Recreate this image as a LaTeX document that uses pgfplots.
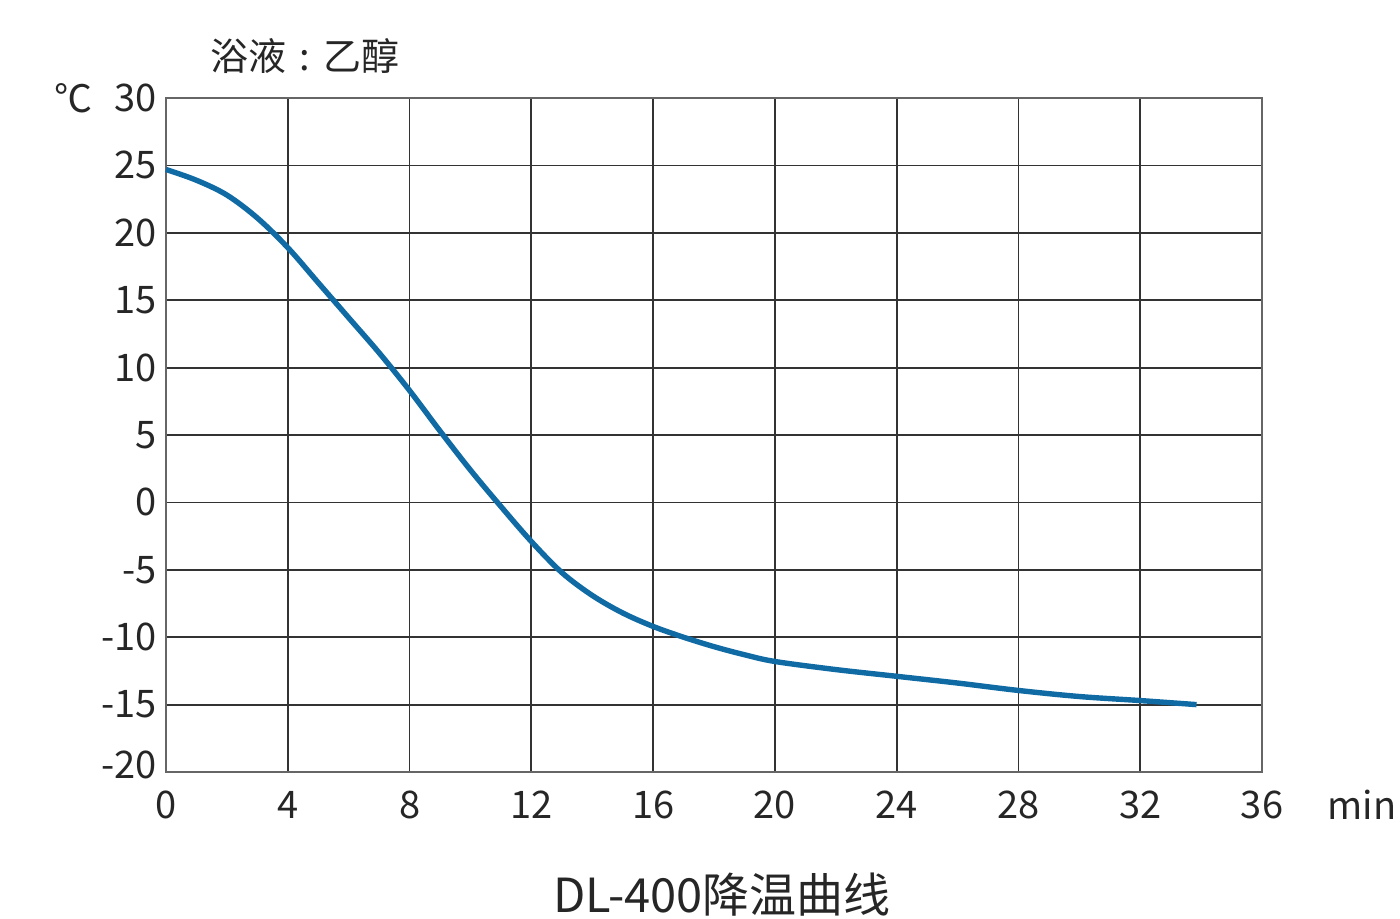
\documentclass[border=0pt]{standalone}
\usepackage{fontspec}
\setmainfont{Noto Sans CJK SC}
\usepackage{pgfplots}
\pgfplotsset{compat=1.18}
\definecolor{curve}{RGB}{16,106,164}
\begin{document}
\begin{tikzpicture}
\useasboundingbox (-83pt,-73pt) rectangle (617pt,386pt);
\begin{axis}[
  at={(0pt,0pt)}, anchor=south west,
  scale only axis, width=548pt, height=337pt,
  xmin=0, xmax=36, ymin=-20, ymax=30,
  xtick={0,4,...,36}, ytick={-20,-15,...,30},
  grid=major, major grid style={draw=black!80, line width=0.9pt},
  axis line style={draw=black!60, line width=0.9pt},
  major tick length=0pt,
  tick label style={font=\fontsize{19}{22}\selectfont, text=black!85},
  /pgf/number format/assume math mode=true,
  xticklabel style={yshift=-6pt},
  yticklabel style={xshift=-1pt},
  yticklabel={\ifdim\tick pt=-20pt\raisebox{7pt}{-20}\else\pgfmathprintnumber{\tick}\fi},
  clip=false,
]
\addplot[color=curve, line width=2.7pt, smooth, tension=0.55] coordinates {
(0,24.7) (1,23.9) (2,22.8) (3,21.1) (4,18.9) (5,16.3) (6,13.7) (7,11.1)
(8,8.3) (9,5.3) (10,2.4) (11,-0.3) (12,-2.9) (13,-5.2) (14,-6.9) (15,-8.2)
(16,-9.2) (17,-10.0) (18,-10.7) (19,-11.3) (20,-11.8) (22,-12.4) (24,-12.9) (26,-13.4)
(28,-13.95) (30,-14.4) (32,-14.7) (33.85,-15.0)
};
\end{axis}
\node[font=\fontsize{19}{21}\selectfont, text=black!85] at (69.5pt,358pt) {浴液\hspace{0.35em}:\hspace{0.35em}乙醇};
\node[font=\fontsize{19}{22}\selectfont, text=black!85] at (-46pt,337pt) {℃};
\node[font=\fontsize{19}{22}\selectfont, text=black!85] at (598pt,-16.5pt) {min};
\node[font=\fontsize{23.5}{25}\selectfont, text=black!85] at (278pt,-61.5pt) {DL-400降温曲线};
\end{tikzpicture}
\end{document}
